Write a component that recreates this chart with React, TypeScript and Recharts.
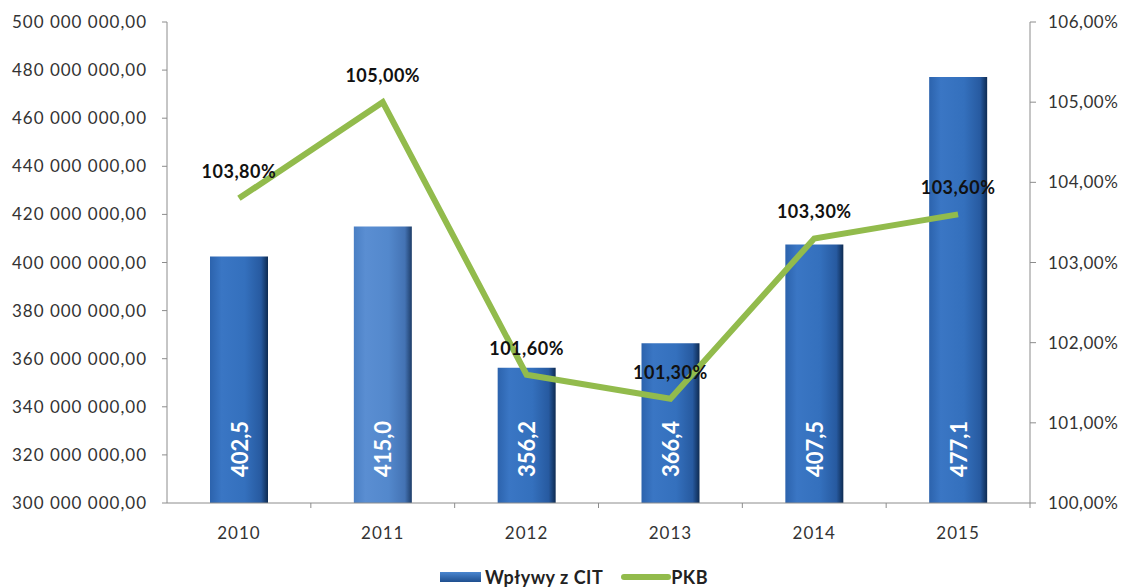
import { ComposedChart, Bar, Line, XAxis, YAxis, Legend, LabelList, Cell } from 'recharts'

const years = ['2010', '2011', '2012', '2013', '2014', '2015']
// Wpływy z CIT w mln
const citMln = [402.5, 415.0, 356.2, 366.4, 407.5, 477.1]
// PKB w %
const pkb = [103.8, 105.0, 101.6, 101.3, 103.3, 103.6]
const leftTicks = [300, 320, 340, 360, 380, 400, 420, 440, 460, 480, 500]
const rightTicks = [100, 101, 102, 103, 104, 105, 106]

const data = years.map((year, i) => ({ year, cit: citMln[i], pkb: pkb[i] }))

const FONT = 'Lato, "Open Sans", sans-serif'
const AXIS = '#8c8c8c'

const fmtLeft = (v: number) =>
  String(v * 1000000).replace(/\B(?=(\d{3})+(?!\d))/g, ' ') + ',00'
const fmtPct = (v: number) => v.toFixed(2).replace('.', ',') + '%'

const XTick = ({ x, y, payload }: any) => {
  const off = payload?.offset || 72
  return (
    <g>
      <line x1={x + off} x2={x + off} y1={y} y2={y + 5} stroke={AXIS} />
      <text
        x={x}
        y={y + 36}
        textAnchor="middle"
        fontSize={17}
        letterSpacing={1}
        fill="#333"
        fontFamily={FONT}
      >
        {payload.value}
      </text>
    </g>
  )
}

const BarValue = ({ x, y, width, height, value }: any) => {
  const cx = x + width / 2
  const cy = y + height - 54
  return (
    <text
      x={cx}
      y={cy}
      transform={`rotate(-90 ${cx} ${cy})`}
      textAnchor="middle"
      dominantBaseline="central"
      fill="#fff"
      fontSize={22}
      fontWeight="bold"
      fontFamily={FONT}
    >
      {Number(value).toFixed(1).replace('.', ',')}
    </text>
  )
}

const LineValue = ({ x, y, value }: any) => (
  <text
    x={x}
    y={y - 27}
    textAnchor="middle"
    dominantBaseline="central"
    fill="#111"
    fontSize={18}
    letterSpacing={0.5}
    fontWeight="bold"
    fontFamily={FONT}
  >
    {fmtPct(Number(value))}
  </text>
)

const CustomLegend = () => (
  <div
    style={{
      display: 'flex',
      justifyContent: 'center',
      alignItems: 'center',
      fontFamily: FONT,
      fontWeight: 'bold',
      fontSize: 18,
      letterSpacing: 0.5,
      color: '#222',
      paddingLeft: 18,
      paddingTop: 9,
    }}
  >
    <span
      style={{
        display: 'inline-block',
        width: 41,
        height: 10,
        background: 'linear-gradient(#4a86d0, #1f4f8f)',
        marginRight: 4,
      }}
    />
    <span>Wpływy z CIT</span>
    <span
      style={{
        display: 'inline-block',
        width: 50,
        height: 6,
        borderRadius: 3,
        background: '#92bb4c',
        marginLeft: 18,
        marginRight: 0,
      }}
    />
    <span>PKB</span>
  </div>
)

export default function App() {
  return (
    <div style={{ position: 'absolute', left: 0, top: 0, background: '#fff' }}>
      <ComposedChart
        width={1130}
        height={587}
        data={data}
        margin={{ top: 22, right: 0, bottom: 0, left: 0 }}
        barCategoryGap={0}
      >
        <defs>
          <linearGradient id="barBlue" x1="0" y1="0" x2="1" y2="0">
            <stop offset="0" stopColor="#2c63ad" />
            <stop offset="0.2" stopColor="#3a76c4" />
            <stop offset="0.6" stopColor="#3470bd" />
            <stop offset="0.88" stopColor="#275aa0" />
            <stop offset="1" stopColor="#0e2b52" />
          </linearGradient>
          <linearGradient id="barLight" x1="0" y1="0" x2="1" y2="0">
            <stop offset="0" stopColor="#4a7fc4" />
            <stop offset="0.2" stopColor="#5a8ed2" />
            <stop offset="0.6" stopColor="#5388cc" />
            <stop offset="0.88" stopColor="#4473b4" />
            <stop offset="1" stopColor="#1e3d68" />
          </linearGradient>
        </defs>
        <XAxis
          dataKey="year"
          xAxisId="x"
          height={54}
          tickLine={false}
          tickSize={0}
          tickMargin={0}
          axisLine={{ stroke: AXIS }}
          tick={<XTick />}
          interval={0}
        />
        <YAxis
          yAxisId="left"
          width={167}
          domain={[300, 500]}
          ticks={leftTicks}
          tickFormatter={fmtLeft}
          tickSize={5}
          tickMargin={15}
          axisLine={{ stroke: AXIS }}
          tickLine={{ stroke: AXIS }}
          tick={{ fontSize: 17, letterSpacing: 1, fill: '#333', fontFamily: FONT }}
          allowDataOverflow
        />
        <YAxis
          yAxisId="right"
          orientation="right"
          width={100}
          domain={[100, 106]}
          ticks={rightTicks}
          tickFormatter={fmtPct}
          tickSize={6}
          tickMargin={12}
          axisLine={{ stroke: AXIS }}
          tickLine={{ stroke: AXIS }}
          tick={{ fontSize: 17, letterSpacing: 0.5, fill: '#333', fontFamily: FONT, textAnchor: 'start' }}
        />
        <Legend verticalAlign="bottom" height={30} content={<CustomLegend />} />
        <Bar dataKey="cit" xAxisId="x" yAxisId="left" barSize={58} isAnimationActive={false}>
          {data.map((d, i) => (
            <Cell key={d.year} fill={i === 1 ? 'url(#barLight)' : 'url(#barBlue)'} />
          ))}
          <LabelList dataKey="cit" content={<BarValue />} />
        </Bar>
        <Line
          dataKey="pkb"
          xAxisId="x"
          yAxisId="right"
          type="linear"
          stroke="#92bb4c"
          strokeWidth={6}
          strokeLinejoin="miter"
          dot={false}
          activeDot={false}
          isAnimationActive={false}
        >
          <LabelList dataKey="pkb" content={<LineValue />} />
        </Line>
      </ComposedChart>
    </div>
  )
}
